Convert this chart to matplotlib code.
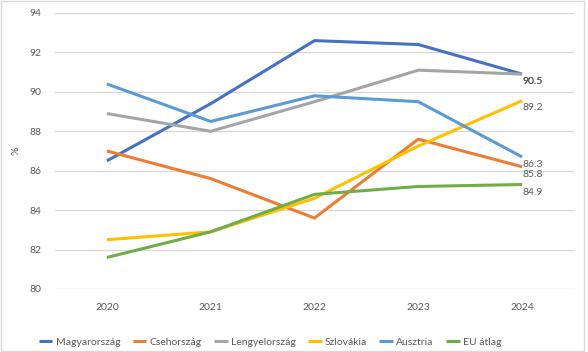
import matplotlib
matplotlib.use("Agg")
import matplotlib.pyplot as plt
from matplotlib.patches import Rectangle

years = ["2020", "2021", "2022", "2023", "2024"]
magyarorszag = [86.5, 89.4, 92.6, 92.4, 90.9]
csehorszag = [87.0, 85.6, 83.6, 87.6, 86.2]
lengyelorszag = [88.9, 88.0, 89.5, 91.1, 90.9]
szlovakia = [82.5, 82.9, 84.6, 87.25, 89.55]
ausztria = [90.4, 88.5, 89.8, 89.5, 86.7]
eu_atlag = [81.6, 82.9, 84.8, 85.2, 85.3]
end_labels = [90.5, 90.5, 89.2, 86.3, 85.8, 84.9]
yticks = [80, 82, 84, 86, 88, 90, 92, 94]

series = [
    ("Magyarország", magyarorszag, "#4472C4"),
    ("Csehország", csehorszag, "#ED7D31"),
    ("Lengyelország", lengyelorszag, "#A5A5A5"),
    ("Szlovákia", szlovakia, "#FFC000"),
    ("Ausztria", ausztria, "#5B9BD5"),
    ("EU átlag", eu_atlag, "#70AD47"),
]

plt.rcParams['font.family'] = ['Lato', 'DejaVu Sans']

fig = plt.figure(figsize=(5.88, 3.52), dpi=100)
ax = fig.add_axes([55/588, 1-289/352, (574-55)/588, (289-13)/352])

x = list(range(len(years)))
for name, vals, col in series:
    ax.plot(x, vals, color=col, lw=2.2, label=name, solid_capstyle='butt')

last = len(years) - 1
for v in end_labels:
    ax.text(last, v, f"{v:.1f}", ha='left', va='center', fontsize=7.5, color='#595959')

ax.set_xlim(-0.5, len(years) - 0.5)
ax.set_ylim(80, 94)
ax.set_yticks(yticks)
ax.set_yticklabels([str(t) for t in yticks])
ax.set_xticks(x)
ax.set_xticklabels(years)
ax.grid(axis='y', color='#d9d9d9', lw=1)
ax.set_axisbelow(True)
for s in ax.spines.values():
    s.set_visible(False)
ax.tick_params(axis='both', length=0, labelsize=7.5, labelcolor='#595959')
ax.tick_params(axis='x', pad=10)
ax.tick_params(axis='y', pad=10)
ax.set_ylabel('%', fontsize=7.5, color='#595959')
ax.yaxis.set_label_coords((20 - 55) / 519, 0.5)

handles, labels = ax.get_legend_handles_labels()
fig.legend(handles, labels, loc='center', bbox_to_anchor=(270/588, 1-342/352), ncol=6,
           frameon=False, fontsize=7.5, handlelength=1.3, handletextpad=0.3,
           columnspacing=1.2, labelcolor='#595959')

fig.add_artist(Rectangle((0.002, 0.004), 0.992, 0.992, transform=fig.transFigure,
                         fill=False, edgecolor='#d9d9d9', lw=1))

fig.savefig("out.png", dpi=100)
